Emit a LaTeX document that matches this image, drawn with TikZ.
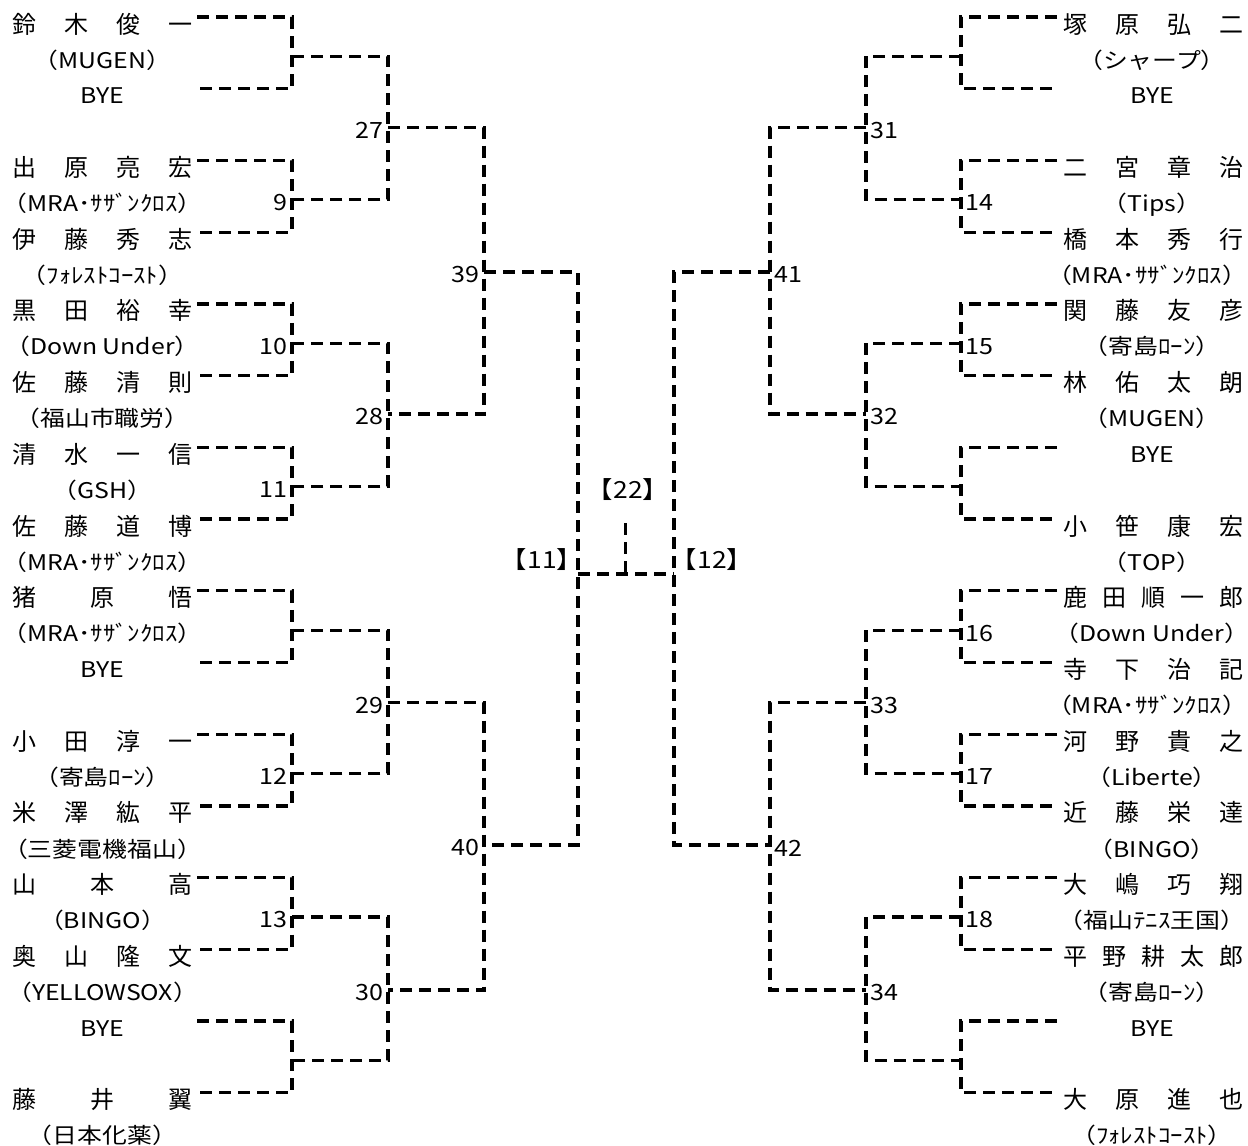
\documentclass[tikz,border=0pt]{standalone}
\usepackage{fontspec}
\newfontfamily\jp{Noto Sans CJK JP}
\newfontfamily\jpw[FakeStretch=1.15]{Noto Sans CJK JP}
\newfontfamily\jpn[FakeStretch=1.12]{Noto Sans CJK JP}
\newcommand\spreadname[1]{\makebox[90.5pt][s]{\spaceskip=0pt plus 1fil\relax #1}}
\tikzset{
  entry/.style={font=\jp\fontsize{12pt}{12pt}\selectfont, inner sep=0pt,
    text height=10.5pt, text depth=1.5pt},
  team/.style={font=\jpw\fontsize{10.8pt}{10.8pt}\selectfont, inner sep=0pt,
    text height=9.5pt, text depth=1.3pt},
  num/.style={font=\jpn\fontsize{11.2pt}{11.2pt}\selectfont, inner sep=2pt, yshift=-1.5pt},
  seed/.style={font=\jpn\fontsize{11.8pt}{11.8pt}\selectfont, inner sep=0pt},
  bk/.style={dashed, dash pattern=on 6pt off 3.5pt, line width=1.65pt},
}
\begin{document}
\begin{tikzpicture}[x=0.5pt,y=-0.5pt]
  \useasboundingbox (0,0) rectangle (1248,1146);

  % Left players
  \node[entry] (p1)  at (102.5,24)    {\spreadname{鈴 木 俊 一}};
  \node[team]  (tp1) at (102.5,59.9)  {（MUGEN）};
  \node[team]  (p2)  at (102.5,95.7)  {BYE};
  \node[entry] (p3)  at (102.5,167.4) {\spreadname{出 原 亮 宏}};
  \node[team]  (tp3) at (102.5,203.3) {（MRA･ｻｻﾞﾝｸﾛｽ）};
  \node[entry] (p4)  at (102.5,239.2) {\spreadname{伊 藤 秀 志}};
  \node[team]  (tp4) at (102.5,275)   {（ﾌｫﾚｽﾄｺｰｽﾄ）};
  \node[entry] (p5)  at (102.5,310.9) {\spreadname{黒 田 裕 幸}};
  \node[team]  (tp5) at (102.5,346.7) {（Down Under）};
  \node[entry] (p6)  at (102.5,382.6) {\spreadname{佐 藤 清 則}};
  \node[team]  (tp6) at (102.5,418.5) {（福山市職労）};
  \node[entry] (p7)  at (102.5,454.3) {\spreadname{清 水 一 信}};
  \node[team]  (tp7) at (102.5,490.2) {（GSH）};
  \node[entry] (p8)  at (102.5,526)   {\spreadname{佐 藤 道 博}};
  \node[team]  (tp8) at (102.5,561.9) {（MRA･ｻｻﾞﾝｸﾛｽ）};
  \node[entry] (p9)  at (102.5,597.8) {\spreadname{猪 原 悟}};
  \node[team]  (tp9) at (102.5,633.6) {（MRA･ｻｻﾞﾝｸﾛｽ）};
  \node[team]  (p10) at (102.5,669.5) {BYE};
  \node[entry] (p11) at (102.5,741.2) {\spreadname{小 田 淳 一}};
  \node[team]  (tp11) at (102.5,777.1) {（寄島ﾛｰﾝ）};
  \node[entry] (p12) at (102.5,812.9) {\spreadname{米 澤 紘 平}};
  \node[team]  (tp12) at (102.5,848.8) {（三菱電機福山）};
  \node[entry] (p13) at (102.5,884.6) {\spreadname{山 本 高}};
  \node[team]  (tp13) at (102.5,920.5) {（BINGO）};
  \node[entry] (p14) at (102.5,956.4) {\spreadname{奥 山 隆 文}};
  \node[team]  (tp14) at (102.5,992.2) {（YELLOWSOX）};
  \node[team]  (p15) at (102.5,1028.1) {BYE};
  \node[entry] (p16) at (102.5,1099.8) {\spreadname{藤 井 翼}};
  \node[team]  (tp16) at (102.5,1135.7) {（日本化薬）};

  % Right players
  \node[entry] (q1)  at (1153.5,24)    {\spreadname{塚 原 弘 二}};
  \node[team]  (tq1) at (1152,59.9)  {（シャープ）};
  \node[team]  (q2)  at (1152,95.7)  {BYE};
  \node[entry] (q3)  at (1153.5,167.4) {\spreadname{二 宮 章 治}};
  \node[team]  (tq3) at (1152,203.3) {（Tips）};
  \node[entry] (q4)  at (1153.5,239.2) {\spreadname{橋 本 秀 行}};
  \node[team]  (tq4) at (1147,275)   {（MRA･ｻｻﾞﾝｸﾛｽ）};
  \node[entry] (q5)  at (1153.5,310.9) {\spreadname{関 藤 友 彦}};
  \node[team]  (tq5) at (1152,346.7) {（寄島ﾛｰﾝ）};
  \node[entry] (q6)  at (1153.5,382.6) {\spreadname{林 佑 太 朗}};
  \node[team]  (tq6) at (1152,418.5) {（MUGEN）};
  \node[team]  (q7)  at (1152,454.3) {BYE};
  \node[entry] (q8)  at (1153.5,526)   {\spreadname{小 笹 康 宏}};
  \node[team]  (tq8) at (1152,561.9) {（TOP）};
  \node[entry] (q9)  at (1153.5,597.8) {\spreadname{鹿 田 順 一 郎}};
  \node[team]  (tq9) at (1152,633.6) {（Down Under）};
  \node[entry] (q10) at (1153.5,669.5) {\spreadname{寺 下 治 記}};
  \node[team]  (tq10) at (1147,705.3) {（MRA･ｻｻﾞﾝｸﾛｽ）};
  \node[entry] (q11) at (1153.5,741.2) {\spreadname{河 野 貴 之}};
  \node[team]  (tq11) at (1152,777.1) {（Liberte）};
  \node[entry] (q12) at (1153.5,812.9) {\spreadname{近 藤 栄 達}};
  \node[team]  (tq12) at (1152,848.8) {（BINGO）};
  \node[entry] (q13) at (1153.5,884.6) {\spreadname{大 嶋 巧 翔}};
  \node[team]  (tq13) at (1152,920.5) {（福山ﾃﾆｽ王国）};
  \node[entry] (q14) at (1153.5,956.4) {\spreadname{平 野 耕 太 郎}};
  \node[team]  (tq14) at (1152,992.2) {（寄島ﾛｰﾝ）};
  \node[team]  (q15) at (1152,1028.1) {BYE};
  \node[entry] (q16) at (1153.5,1099.8) {\spreadname{大 原 進 也}};
  \node[team]  (tq16) at (1152,1135.7) {（ﾌｫﾚｽﾄｺｰｽﾄ）};

  % Line ends beside the players
  \coordinate (e1)  at (197,17);     \coordinate (r1)  at (1057,17);
  \coordinate (e2)  at (197,88.7);   \coordinate (r2)  at (1057,88.7);
  \coordinate (e3)  at (197,160.4);  \coordinate (r3)  at (1057,160.4);
  \coordinate (e4)  at (197,232.2);  \coordinate (r4)  at (1057,232.2);
  \coordinate (e5)  at (197,303.9);  \coordinate (r5)  at (1057,303.9);
  \coordinate (e6)  at (197,375.6);  \coordinate (r6)  at (1057,375.6);
  \coordinate (e7)  at (197,447.3);  \coordinate (r7)  at (1057,447.3);
  \coordinate (e8)  at (197,519);    \coordinate (r8)  at (1057,519);
  \coordinate (e9)  at (197,590.8);  \coordinate (r9)  at (1057,590.8);
  \coordinate (e10) at (197,662.5);  \coordinate (r10) at (1057,662.5);
  \coordinate (e11) at (197,734.2);  \coordinate (r11) at (1057,734.2);
  \coordinate (e12) at (197,805.9);  \coordinate (r12) at (1057,805.9);
  \coordinate (e13) at (197,877.6);  \coordinate (r13) at (1057,877.6);
  \coordinate (e14) at (197,949.4);  \coordinate (r14) at (1057,949.4);
  \coordinate (e15) at (197,1021.1); \coordinate (r15) at (1057,1021.1);
  \coordinate (e16) at (197,1092.8); \coordinate (r16) at (1057,1092.8);

  % Match points
  \coordinate (byeA) at (292,56.4);  \coordinate (byeD) at (961,56.4);
  \coordinate (m9)   at (292,199.8); \coordinate (m14)  at (961,199.8);
  \coordinate (m10)  at (292,343.3); \coordinate (m15)  at (961,343.3);
  \coordinate (m11)  at (292,486.7); \coordinate (byeE) at (961,486.7);
  \coordinate (byeB) at (292,630.2); \coordinate (m16)  at (961,630.2);
  \coordinate (m12)  at (292,773.6); \coordinate (m17)  at (961,773.6);
  \coordinate (m13)  at (292,917);   \coordinate (m18)  at (961,917);
  \coordinate (byeC) at (292,1060.5); \coordinate (byeF) at (961,1060.5);
  \coordinate (m27) at (388,127.5);  \coordinate (m31) at (866,127.5);
  \coordinate (m28) at (388,414);    \coordinate (m32) at (866,414);
  \coordinate (m29) at (388,702.5);  \coordinate (m33) at (866,702.5);
  \coordinate (m30) at (388,990);    \coordinate (m34) at (866,990);
  \coordinate (m39) at (484,272);    \coordinate (m41) at (770,272);
  \coordinate (m40) at (484,845);    \coordinate (m42) at (770,845);
  \coordinate (sf11) at (578,574);   \coordinate (sf12) at (674,574);
  \coordinate (fn22) at (625.5,523); \coordinate (fnj) at (625.5,574);

  % First round
  \draw[bk] (e1) -| (byeA) |- (e2);   \draw[bk] (r1) -| (byeD) |- (r2);
  \draw[bk] (e3) -| (m9) |- (e4);     \draw[bk] (r3) -| (m14) |- (r4);
  \draw[bk] (e5) -| (m10) |- (e6);    \draw[bk] (r5) -| (m15) |- (r6);
  \draw[bk] (e7) -| (m11) |- (e8);    \draw[bk] (r7) -| (byeE) |- (r8);
  \draw[bk] (e9) -| (byeB) |- (e10);  \draw[bk] (r9) -| (m16) |- (r10);
  \draw[bk] (e11) -| (m12) |- (e12);  \draw[bk] (r11) -| (m17) |- (r12);
  \draw[bk] (e13) -| (m13) |- (e14);  \draw[bk] (r13) -| (m18) |- (r14);
  \draw[bk] (e15) -| (byeC) |- (e16); \draw[bk] (r15) -| (byeF) |- (r16);
  % Second round
  \draw[bk] (byeA) -| (m27) |- (m9);  \draw[bk] (byeD) -| (m31) |- (m14);
  \draw[bk] (m10) -| (m28) |- (m11);  \draw[bk] (m15) -| (m32) |- (byeE);
  \draw[bk] (byeB) -| (m29) |- (m12); \draw[bk] (m16) -| (m33) |- (m17);
  \draw[bk] (m13) -| (m30) |- (byeC); \draw[bk] (m18) -| (m34) |- (byeF);
  % Third round
  \draw[bk] (m27) -| (m39) |- (m28);  \draw[bk] (m31) -| (m41) |- (m32);
  \draw[bk] (m29) -| (m40) |- (m30);  \draw[bk] (m33) -| (m42) |- (m34);
  % Semi finals and final
  \draw[bk] (m39) -| (sf11) |- (m40);
  \draw[bk] (m41) -| (sf12) |- (m42);
  \draw[bk] (sf11) -- (sf12);
  \draw[bk] (fn22) -- (fnj);

  % Match numbers
  \node[num, anchor=east] (n9)  at (m9)  {9};
  \node[num, anchor=east] (n10) at (m10) {10};
  \node[num, anchor=east] (n11) at (m11) {11};
  \node[num, anchor=east] (n12) at (m12) {12};
  \node[num, anchor=east] (n13) at (m13) {13};
  \node[num, anchor=east] (n27) at (m27) {27};
  \node[num, anchor=east] (n28) at (m28) {28};
  \node[num, anchor=east] (n29) at (m29) {29};
  \node[num, anchor=east] (n30) at (m30) {30};
  \node[num, anchor=east] (n39) at (m39) {39};
  \node[num, anchor=east] (n40) at (m40) {40};
  \node[num, anchor=west] (n14) at (m14) {14};
  \node[num, anchor=west] (n15) at (m15) {15};
  \node[num, anchor=west] (n16) at (m16) {16};
  \node[num, anchor=west] (n17) at (m17) {17};
  \node[num, anchor=west] (n18) at (m18) {18};
  \node[num, anchor=west] (n31) at (m31) {31};
  \node[num, anchor=west] (n32) at (m32) {32};
  \node[num, anchor=west] (n33) at (m33) {33};
  \node[num, anchor=west] (n34) at (m34) {34};
  \node[num, anchor=west] (n41) at (m41) {41};
  \node[num, anchor=west] (n42) at (m42) {42};
  \node[seed] (b11) at (542,560) {【11】};
  \node[seed] (b12) at (712,560) {【12】};
  \node[seed] (b22) at (628,490) {【22】};
\end{tikzpicture}
\end{document}
